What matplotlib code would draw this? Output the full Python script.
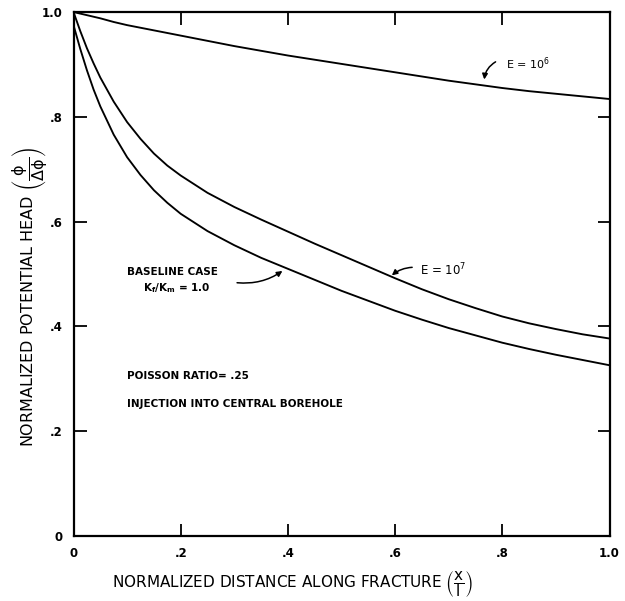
import matplotlib
matplotlib.use("Agg")
import matplotlib.pyplot as plt

plt.rcParams['font.family'] = ['DejaVu Sans']
plt.rcParams['mathtext.default'] = 'regular'

# Normalized distance along fracture (x/l)
x = [0, 0.0125, 0.025, 0.0375, 0.05, 0.075, 0.1, 0.125, 0.15, 0.175, 0.2,
     0.25, 0.3, 0.35, 0.4, 0.45, 0.5, 0.55, 0.6, 0.65, 0.7, 0.75, 0.8,
     0.85, 0.9, 0.95, 1.0]
# Normalized potential head, E = 10^6
y_e6 = [1.0, 0.997, 0.994, 0.991, 0.988, 0.981, 0.975, 0.970, 0.965, 0.960,
        0.955, 0.945, 0.935, 0.926, 0.917, 0.909, 0.901, 0.893, 0.885, 0.877,
        0.869, 0.862, 0.855, 0.849, 0.844, 0.839, 0.834]
# Normalized potential head, E = 10^7
y_e7 = [1.0, 0.964, 0.931, 0.902, 0.875, 0.829, 0.790, 0.758, 0.730, 0.707,
        0.688, 0.655, 0.628, 0.604, 0.581, 0.558, 0.536, 0.514, 0.492, 0.471,
        0.452, 0.435, 0.419, 0.406, 0.395, 0.385, 0.377]
# Normalized potential head, baseline case (Kf/Km = 1.0)
y_base = [0.975, 0.930, 0.889, 0.852, 0.820, 0.766, 0.723, 0.689, 0.660,
          0.636, 0.615, 0.582, 0.555, 0.531, 0.510, 0.489, 0.468, 0.449,
          0.430, 0.413, 0.397, 0.383, 0.369, 0.357, 0.346, 0.336, 0.326]

xticks = [0, 0.2, 0.4, 0.6, 0.8, 1.0]
xticklabels = ['0', '.2', '.4', '.6', '.8', '1.0']
yticks = [0, 0.2, 0.4, 0.6, 0.8, 1.0]
yticklabels = ['0', '.2', '.4', '.6', '.8', '1.0']

fig = plt.figure(figsize=(6.25, 6.01), dpi=100)
ax = fig.add_axes([0.1176, 0.108, 0.8576, 0.872])

lw = 1.35
ax.plot(x, y_e6, color='black', lw=lw)
ax.plot(x, y_e7, color='black', lw=lw)
ax.plot(x, y_base, color='black', lw=lw)

ax.set_xlim(0, 1.0)
ax.set_ylim(0, 1.0)
ax.set_xticks(xticks)
ax.set_xticklabels(xticklabels, fontweight='bold')
ax.set_yticks(yticks)
ax.set_yticklabels(yticklabels, fontweight='bold')
ax.tick_params(direction='in', length=9, width=1.3, top=True, right=True,
               labelsize=8.5, pad=8)
for sp in ax.spines.values():
    sp.set_linewidth(1.6)

txt = dict(fontsize=7.5, fontweight='bold', color='black')
arrow = dict(arrowstyle='-|>', color='black', lw=1.1, mutation_scale=8)

ax.annotate('', xy=(0.766, 0.866), xytext=(0.792, 0.9075),
            arrowprops=dict(connectionstyle='arc3,rad=0.3', **arrow))
ax.text(0.807, 0.902, 'E = 10$^{6}$', va='center', ha='left',
        fontsize=8, color='black')

ax.annotate('', xy=(0.59, 0.494), xytext=(0.637, 0.513),
            arrowprops=dict(connectionstyle='arc3,rad=0.2', **arrow))
ax.text(0.646, 0.508, 'E = 10$^{7}$', va='center', ha='left',
        fontsize=8.5, color='black')

ax.annotate('', xy=(0.394, 0.509), xytext=(0.30, 0.484),
            arrowprops=dict(connectionstyle='arc3,rad=0.2', **arrow))
ax.text(0.099, 0.503, 'BASELINE CASE', va='center', ha='left', **txt)
ax.text(0.129, 0.473, 'K$_f$/K$_m$ = 1.0', va='center', ha='left', **txt)

ax.text(0.099, 0.305, 'POISSON RATIO= .25', va='center', ha='left', **txt)
ax.text(0.099, 0.252, 'INJECTION INTO CENTRAL BOREHOLE', va='center',
        ha='left', **txt)

fig.text(0.468, 0.028,
         r'NORMALIZED DISTANCE ALONG FRACTURE $\left(\dfrac{x}{l}\right)$',
         ha='center', va='center', fontsize=11)
fig.text(0.048, 0.506,
         r'NORMALIZED POTENTIAL HEAD $\left(\dfrac{\phi}{\Delta\phi}\right)$',
         ha='center', va='center', rotation=90, fontsize=11.5)

fig.savefig('out.png', dpi=100, facecolor='white')
